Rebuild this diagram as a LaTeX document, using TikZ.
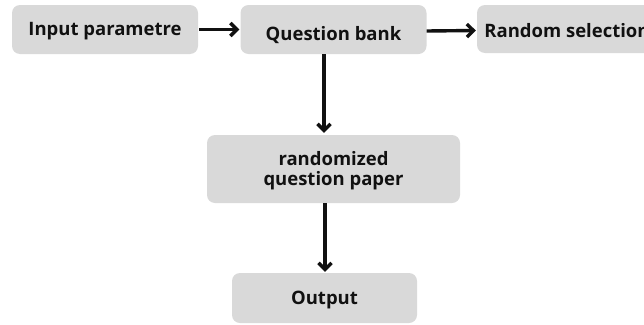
\documentclass[tikz,border=0pt]{standalone}
\usepackage{fontspec}
\setmainfont{Open Sans}
\usetikzlibrary{arrows.meta}
\definecolor{boxgray}{HTML}{D9D9D9}
\definecolor{txt}{HTML}{111111}
\newcommand{\lowtext}[2]{\raisebox{-#1}[\height][\depth]{#2}}
\tikzset{
  box/.style={fill=boxgray, rounded corners=8pt, inner sep=0pt, align=center,
    font=\fontsize{18.5}{18.5}\selectfont\bfseries, text=txt},
  arr/.style={draw=txt, line width=3.4pt, -{Straight Barb[length=6.5pt,width=13pt]}}
}
\begin{document}
\begin{tikzpicture}[x=1pt,y=-1pt]
\useasboundingbox (0,0) rectangle (644,324);
\clip (0,0) rectangle (644,324);
\node[box, minimum width=186pt, minimum height=49pt] (b1) at (105,29.5) {\lowtext{2pt}{Input parametre}};
\node[box, minimum width=186pt, minimum height=49pt] (b2) at (333.5,29.5) {\lowtext{6pt}{Question bank}};
\node[box, minimum width=180pt, minimum height=48pt] (b3) at (567,29) {\lowtext{2pt}{Random selection}};
\node[box, minimum width=253pt, minimum height=68pt] (b4) at (333.5,169) {\lowtext{2pt}{\begin{tabular}{@{}c@{}}randomized\\question paper\end{tabular}}};
\node[box, minimum width=185pt, minimum height=50pt] (b5) at (324.5,298) {\lowtext{2pt}{Output}};
\coordinate (c1) at (324,0);
\coordinate (c2) at (325,0);
\draw[arr] (b1.east) ++(1,0) -- ([xshift=-1pt]b2.west);
\draw[arr] ([yshift=-1.5pt]b2.east) -- ([yshift=-1.5pt,xshift=-1pt]b3.west);
\draw[arr] (b2.south -| c1) -- ([yshift=2pt]b4.north -| c1);
\draw[arr] (b4.south -| c2) -- ([yshift=1pt]b5.north -| c2);
\end{tikzpicture}
\end{document}
